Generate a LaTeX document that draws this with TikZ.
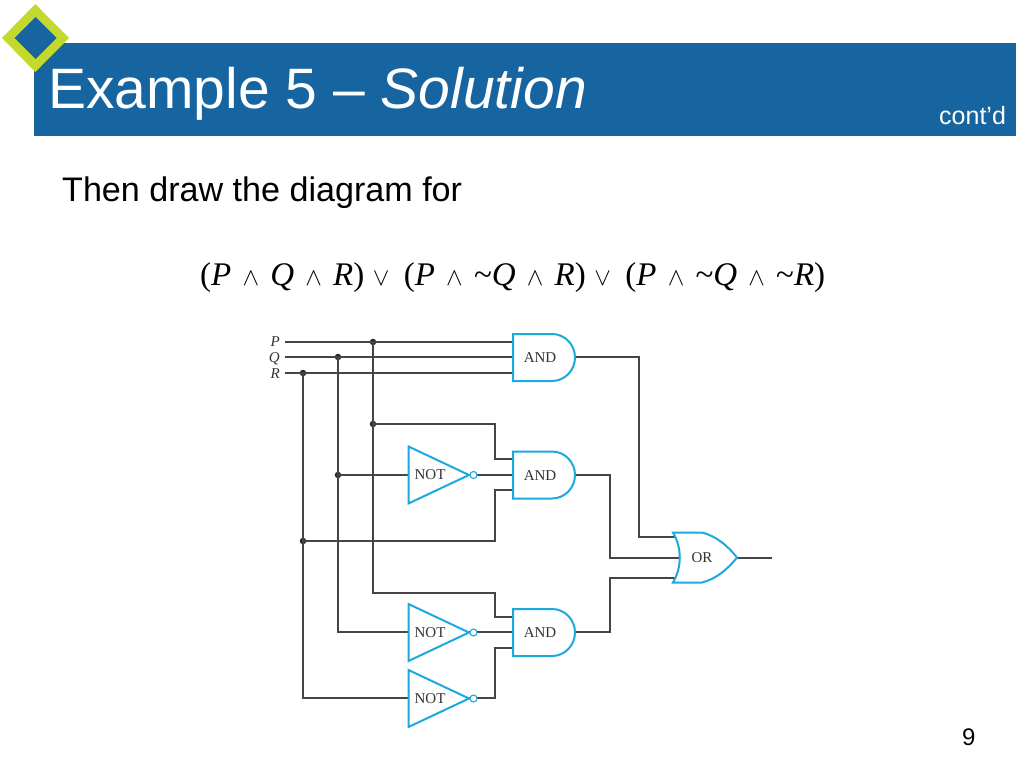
\documentclass[tikz,border=0pt]{standalone}
\usepackage{fontspec}
\setmainfont{Liberation Sans}
\newfontfamily\serifgate{Liberation Serif}
\definecolor{hdr}{HTML}{1665A0}
\definecolor{lime}{HTML}{C4D92E}
\definecolor{gatec}{HTML}{1CA9DE}
\definecolor{wirec}{HTML}{454545}
\tikzset{
  wire/.style={draw=wirec,line width=1.3pt},
  gateline/.style={draw=gatec,line width=2pt,fill=white,line join=miter},
  gatelabel/.style={inner sep=0pt,anchor=center,font=\serifgate\fontsize{15}{15}\selectfont,text=black!80},
  inlabel/.style={inner sep=0pt,anchor=base east,font=\serifgate\itshape\fontsize{15}{15}\selectfont,text=black!80},
  jdot/.style={circle,fill=black!85,inner sep=0pt,minimum size=6.5pt},
  bubble/.style={circle,draw=gatec,line width=1.1pt,fill=white,inner sep=0pt,minimum size=7pt},
  plain/.style={inner sep=0pt,anchor=base west},
}
\newcommand{\andgate}[2]{% name, centre y
  \draw[gateline] (513,#2-23.5) -- (552,#2-23.5) arc (-90:90:23 and 23.5) -- (513,#2+23.5) -- cycle;
  \node[gatelabel] (#1) at (540,#2+0.5) {AND};
}
\newcommand{\notgate}[2]{% name, centre y
  \draw[gateline] (408.5,#2-28.5) -- (469,#2) -- (408.5,#2+28.5) -- cycle;
  \node[gatelabel] (#1) at (430,#2) {NOT};
  \node[bubble] (#1b) at (473.5,#2) {};
}
\newcommand{\wg}{\hspace{11.2pt}{\fontsize{38}{38}\selectfont$\wedge$}\hspace{11.2pt}}
\newcommand{\vga}{\hspace{8.5pt}{\fontsize{38}{38}\selectfont$\vee$}\hspace{14.5pt}}
\begin{document}
\begin{tikzpicture}[x=1pt,y=-1pt]
\useasboundingbox (0,0) rectangle (1024,768);
% header
\fill[hdr] (34,43) rectangle (1016,136);
\fill[lime] (35.3,4) -- (69,38) -- (35.3,72) -- (2,38) -- cycle;
\fill[hdr] (35.7,17) -- (56.7,38) -- (35.7,59) -- (14.7,38) -- cycle;
\node[plain,text=white,font=\fontsize{57}{57}\selectfont] (title) at (48,108.5) {Example 5 -- \itshape Solution};
\node[plain,text=white,font=\fontsize{25}{25}\selectfont] (contd) at (939,124.5) {cont’d};
\node[plain,font=\fontsize{34.1}{34}\selectfont] (intro) at (62,201) {Then draw the diagram for};
\node[plain,font=\serifgate\fontsize{33}{33}\selectfont] (formula) at (200,285)
 {(\textit{P}\wg\textit{Q}\wg\textit{R})\vga(\textit{P}\wg\char`\~\textit{Q}\wg\textit{R})\vga(\textit{P}\wg\char`\~\textit{Q}\wg\char`\~\textit{R})};
\node[plain,font=\fontsize{24}{24}\selectfont] (page) at (962,745) {9};
% input labels
\node[inlabel] (P) at (280,346) {P};
\node[inlabel] (Q) at (280,362) {Q};
\node[inlabel] (R) at (280,378) {R};
% free wire starts
\coordinate (ps) at (285,342);
\coordinate (qs) at (285,357);
\coordinate (rs) at (285,373);
% junctions
\node[jdot] (jp1) at (373,342) {};
\node[jdot] (jq1) at (338,357) {};
\node[jdot] (jr1) at (303,373) {};
\node[jdot] (jp2) at (373,424) {};
\node[jdot] (jq2) at (338,475) {};
\node[jdot] (jr2) at (303,541) {};
% ports
\coordinate (a1p) at (513,342);
\coordinate (a1q) at (513,357);
\coordinate (a1r) at (513,373);
\coordinate (a1o) at (575,357);
\coordinate (a2p) at (513,459);
\coordinate (a2q) at (513,475);
\coordinate (a2r) at (513,490);
\coordinate (a2o) at (575,475);
\coordinate (a3p) at (513,617);
\coordinate (a3q) at (513,632);
\coordinate (a3r) at (513,648);
\coordinate (a3o) at (575,632);
\coordinate (n1i) at (408.5,475);
\coordinate (n2i) at (408.5,632);
\coordinate (n3i) at (408.5,698);
\coordinate (o1) at (675,537);
\coordinate (o2) at (681,558);
\coordinate (o3) at (675,578);
\coordinate (oo) at (737,558);
\coordinate (out) at (772,558);
\coordinate (pc) at (373,593);
\coordinate (bx) at (495,0);
% wires
\draw[wire] (ps) -- (a1p);
\draw[wire] (qs) -- (a1q);
\draw[wire] (rs) -- (a1r);
\draw[wire] (jp1.center) -- (pc) -| (bx |- a3p) -- (a3p);
\draw[wire] (jq1.center) |- (n2i);
\draw[wire] (jr1.center) |- (n3i);
\draw[wire] (jp2.center) -| (bx |- a2p) -- (a2p);
\draw[wire] (jq2.center) -- (n1i);
\draw[wire] (jr2.center) -| (bx |- a2r) -- (a2r);
\draw[wire] (469,475) -- (a2q);
\draw[wire] (469,632) -- (a3q);
\draw[wire] (469,698) -| (bx |- a3r) -- (a3r);
\draw[wire] (a1o) -| (639,537) -- (o1);
\draw[wire] (a2o) -| (610,558) -- (o2);
\draw[wire] (a3o) -| (610,578) -- (o3);
\draw[wire] (oo) -- (out);
% gates
\andgate{and1}{357.5}
\andgate{and2}{475}
\andgate{and3}{632.5}
\notgate{not1}{475}
\notgate{not2}{632.5}
\notgate{not3}{698.5}
\draw[gateline] (673,532.5) .. controls (682,548) and (682,567) .. (673,582.5) -- (702,582.5)
  .. controls (716,579) and (728,569) .. (737,557.5)
  .. controls (728,546) and (716,536) .. (702,532.5) -- cycle;
\node[gatelabel] (or) at (702,558) {OR};
\end{tikzpicture}
\end{document}
